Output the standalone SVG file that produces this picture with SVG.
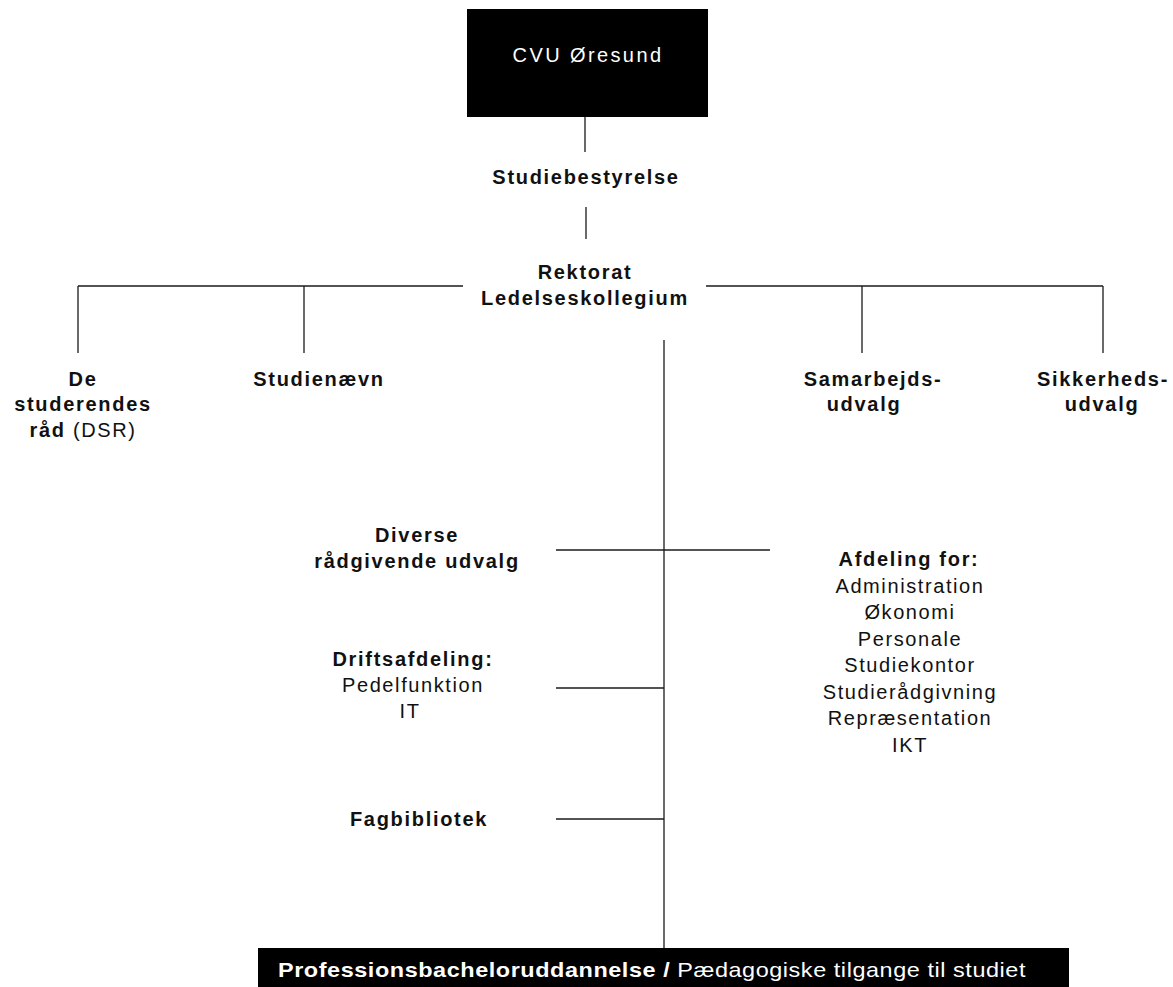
<svg xmlns="http://www.w3.org/2000/svg" width="1173" height="987" viewBox="0 0 1173 987">
<style>
text{font-family:"Liberation Sans",Arial,Helvetica,sans-serif;font-size:20px;fill:#111;text-anchor:middle}
.b{font-weight:bold;letter-spacing:1.7px}
.r{font-weight:normal;letter-spacing:1.6px}
.w{fill:#fff}
.c line{stroke:#1a1a1a;stroke-width:1.3}
</style>
<rect width="1173" height="987" fill="#fff"/>
<g class="c" id="connectors">
<line x1="585" y1="117" x2="585" y2="152"/>
<line x1="586" y1="207" x2="586" y2="239"/>
<line x1="78" y1="286" x2="463" y2="286"/>
<line x1="706" y1="286" x2="1103" y2="286"/>
<line x1="78" y1="286" x2="78" y2="353"/>
<line x1="304" y1="286" x2="304" y2="353"/>
<line x1="862" y1="286" x2="862" y2="353"/>
<line x1="1103" y1="286" x2="1103" y2="353"/>
<line x1="664" y1="340" x2="664" y2="948"/>
<line x1="556" y1="550" x2="770" y2="550"/>
<line x1="556" y1="688" x2="664" y2="688"/>
<line x1="556" y1="819" x2="664" y2="819"/>
</g>
<g id="cvu">
<rect x="467" y="9" width="241" height="108" fill="#000"/>
<text class="r w" x="588" y="62" style="letter-spacing:2.4px">CVU Øresund</text>
</g>
<g id="studiebestyrelse"><text class="b" x="586" y="184">Studiebestyrelse</text></g>
<g id="rektorat"><text class="b" x="585" y="279">Rektorat</text><text class="b" x="585" y="305">Ledelseskollegium</text></g>
<g id="dsr">
<text class="b" x="83" y="386">De</text>
<text class="b" x="83" y="411">studerendes</text>
<text x="83" y="437"><tspan class="b">råd</tspan><tspan class="r"> (DSR)</tspan></text>
</g>
<g id="studienaevn"><text class="b" x="319" y="386">Studienævn</text></g>
<g id="samarbejdsudvalg"><text class="b" x="873" y="386">Samarbejds-</text><text class="b" x="864" y="411">udvalg</text></g>
<g id="sikkerhedsudvalg"><text class="b" x="1103" y="386">Sikkerheds-</text><text class="b" x="1102" y="411">udvalg</text></g>
<g id="diverse"><text class="b" x="417" y="542">Diverse</text><text class="b" x="417" y="568">rådgivende udvalg</text></g>
<g id="driftsafdeling">
<text class="b" x="413" y="666">Driftsafdeling:</text>
<text class="r" x="413" y="692">Pedelfunktion</text>
<text class="r" x="410" y="718">IT</text>
</g>
<g id="fagbibliotek"><text class="b" x="419" y="826">Fagbibliotek</text></g>
<g id="afdeling">
<text class="b" x="909" y="566">Afdeling for:</text>
<text class="r" x="910" y="592.5">Administration</text>
<text class="r" x="910" y="619">Økonomi</text>
<text class="r" x="910" y="645.5">Personale</text>
<text class="r" x="910" y="672">Studiekontor</text>
<text class="r" x="910" y="698.5">Studierådgivning</text>
<text class="r" x="910" y="725">Repræsentation</text>
<text class="r" x="910" y="751.5">IKT</text>
</g>
<g id="bachelor">
<rect x="258" y="948" width="811" height="39" fill="#000"/>
<text x="278" y="977" style="text-anchor:start;font-size:21px" textLength="748" lengthAdjust="spacingAndGlyphs"><tspan class="w" style="font-weight:bold;letter-spacing:0.5px">Professionsbacheloruddannelse / </tspan><tspan class="w" style="letter-spacing:0.5px">Pædagogiske tilgange til studiet</tspan></text>
</g>
</svg>
